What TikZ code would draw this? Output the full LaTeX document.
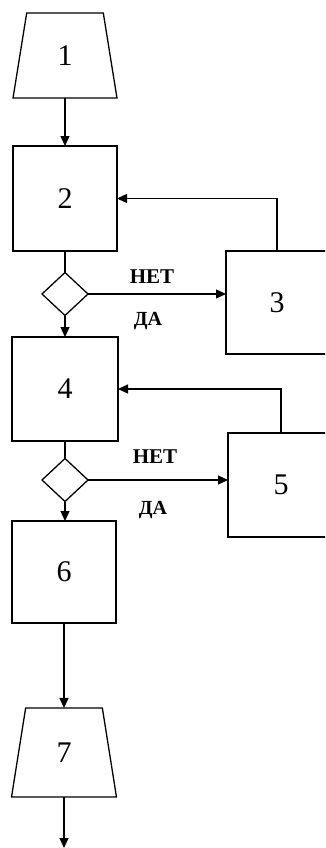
\documentclass[tikz,border=0pt]{standalone}
\usepackage{fontspec}
\setmainfont{Liberation Serif}
\usetikzlibrary{shapes.geometric,arrows.meta}
\begin{document}
\begin{tikzpicture}[x=1pt,y=-1pt,
  line width=1.3pt,
  every node/.style={inner sep=0pt,outer sep=0pt},
  box/.style={draw,rectangle,font=\fontsize{30}{34}\selectfont},
  trap/.style={draw,trapezium,trapezium stretches=true,font=\fontsize{30}{34}\selectfont},
  dia/.style={draw,diamond,minimum width=46pt,minimum height=43pt},
  lbl/.style={font=\fontsize{21}{24}\selectfont\bfseries},
  lbly/.style={font=\fontsize{20}{24}\selectfont\bfseries},
  arr/.style={-{Triangle[length=10pt,width=9pt]}}]
\useasboundingbox (0,0) rectangle (325,848);
\clip (0,0) rectangle (325,848);
\node[trap,minimum width=104pt,minimum height=85pt,trapezium angle=82.3] (t1) at (65,55.5) {1};
\node[box,minimum width=104pt,minimum height=105pt] (b2) at (65,198.5) {2};
\node[dia] (d1) at (65,294) {};
\node[box,minimum width=102pt,minimum height=103pt] (b3) at (277,302.5) {3};
\node[box,minimum width=106pt,minimum height=104pt] (b4) at (65,389) {4};
\node[dia] (d2) at (65,480) {};
\node[box,minimum width=106pt,minimum height=104pt] (b5) at (281,485) {5};
\node[box,minimum width=104pt,minimum height=102pt] (b6) at (64,572) {6};
\node[trap,minimum width=105pt,minimum height=89pt,trapezium angle=82] (t7) at (64,752.5) {7};
\coordinate (end) at (64,848);
\node[lbl] (n1) at (152,277) {НЕТ};
\node[lbly] (y1) at (148,321) {ДА};
\node[lbl] (n2) at (155,457) {НЕТ};
\node[lbly] (y2) at (153,510) {ДА};
\draw[arr] (t1.south) -- (b2.north);
\draw (b2.south) -- (d1.north);
\draw[arr] (d1.east) -- (d1.east -| b3.west);
\draw[arr] (b3.north) |- (b2.east);
\draw[arr] (d1.south) -- (b4.north);
\draw (b4.south) -- (d2.north);
\draw[arr] (d2.east) -- (d2.east -| b5.west);
\draw[arr] (b5.north) |- (b4.east);
\draw[arr] (d2.south) -- (d2.south |- b6.north);
\draw[arr] (b6.south) -- (t7.north);
\draw[arr] (t7.south) -- (end);
\end{tikzpicture}
\end{document}
